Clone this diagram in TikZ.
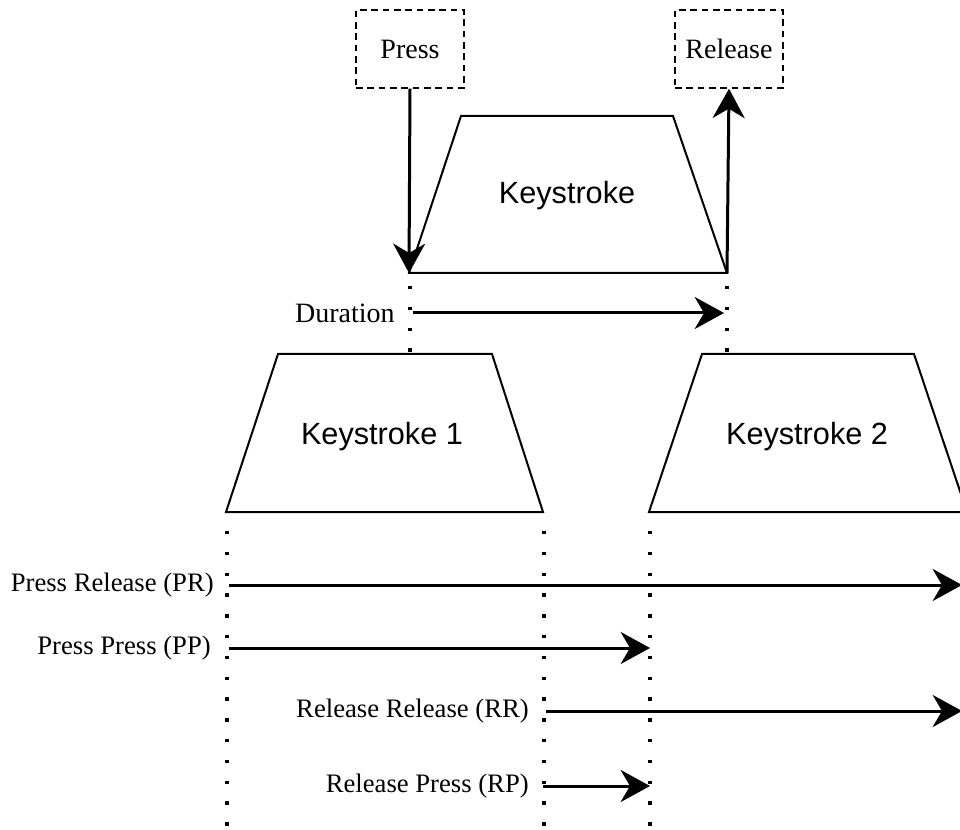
\documentclass[tikz,border=0pt]{standalone}
\usepackage{fontspec}
\setmainfont{Liberation Serif}
\newfontfamily\keyfont{Liberation Sans}
\usetikzlibrary{arrows.meta}

\begin{document}
\begin{tikzpicture}[x=0.75pt, y=-0.75pt,
  trap/.style={draw, line width=1.5pt, line join=miter},
  keytext/.style={font=\keyfont\fontsize{23}{27}\selectfont},
  lbl/.style={font=\fontsize{20}{24}\selectfont, inner sep=0pt, anchor=east},
  evbox/.style={draw, dashed, line width=1.1pt, dash pattern=on 5pt off 3.5pt, minimum width=81pt, minimum height=58.5pt, inner sep=0pt, font=\fontsize{21}{25}\selectfont},
  arr/.style={line width=2.25pt, -{Stealth[length=22pt, width=24pt, inset=7pt]}},
  dots/.style={line width=2.5pt, dash pattern=on 2.5pt off 13.1pt}]
  \useasboundingbox (0,0) rectangle (960,830);
  \clip (0,0) rectangle (960,830);

  % single keystroke: press and release events
  \node[evbox] (press) at (410,49) {Press};
  \node[evbox] (release) at (729,49) {Release};
  \coordinate (k-bl) at (409,273);
  \coordinate (k-br) at (727,273);
  \draw[trap] (k-bl) -- (461,116) -- (673,116) -- (k-br) -- cycle;
  \node[keytext] (ks) at (567,196) {Keystroke};
  \draw[arr] (press.south) -- (k-bl);
  \draw[arr] (k-br) -- (release.south);

  % duration
  \coordinate (d1t) at (410,286); \coordinate (d1b) at (410,353);
  \coordinate (d2t) at (727,286); \coordinate (d2b) at (727,353);
  \draw[dots] (d1t) -- (d1b);
  \draw[dots] (d2t) -- (d2b);
  \node[lbl, font=\fontsize{21}{25}\selectfont] (dur) at (395,313) {Duration};
  \coordinate (dur-s) at (413,313); \coordinate (dur-e) at (724,313);
  \draw[arr] (dur-s) -- (dur-e);

  % two keystrokes
  \draw[trap] (226,512) -- (278,354) -- (492,354) -- (543,512) -- cycle;
  \node[keytext] (ks1) at (382,437) {Keystroke 1};
  \draw[trap] (649,512) -- (702,354) -- (914,354) -- (967,512) -- cycle;
  \node[keytext] (ks2) at (807,437) {Keystroke 2};

  % event columns
  \coordinate (c1t) at (227,531); \coordinate (c1b) at (227,832);
  \coordinate (c2t) at (544,531); \coordinate (c2b) at (544,832);
  \coordinate (c3t) at (650,531); \coordinate (c3b) at (650,832);
  \draw[dots] (c1t) -- (c1b);
  \draw[dots] (c2t) -- (c2b);
  \draw[dots] (c3t) -- (c3b);

  % latencies
  \node[lbl] (prl) at (214,585) {Press Release (PR)};
  \coordinate (pr-s) at (229,585); \coordinate (pr-e) at (962,585);
  \draw[arr] (pr-s) -- (pr-e);
  \node[lbl] (ppl) at (211,648) {Press Press (PP)};
  \coordinate (pp-s) at (229,648); \coordinate (pp-e) at (650,648);
  \draw[arr] (pp-s) -- (pp-e);
  \node[lbl] (rrl) at (529,711) {Release Release (RR)};
  \coordinate (rr-s) at (546,711); \coordinate (rr-e) at (962,711);
  \draw[arr] (rr-s) -- (rr-e);
  \node[lbl] (rpl) at (529,786) {Release Press (RP)};
  \coordinate (rp-s) at (543,786); \coordinate (rp-e) at (650,786);
  \draw[arr] (rp-s) -- (rp-e);
\end{tikzpicture}
\end{document}
